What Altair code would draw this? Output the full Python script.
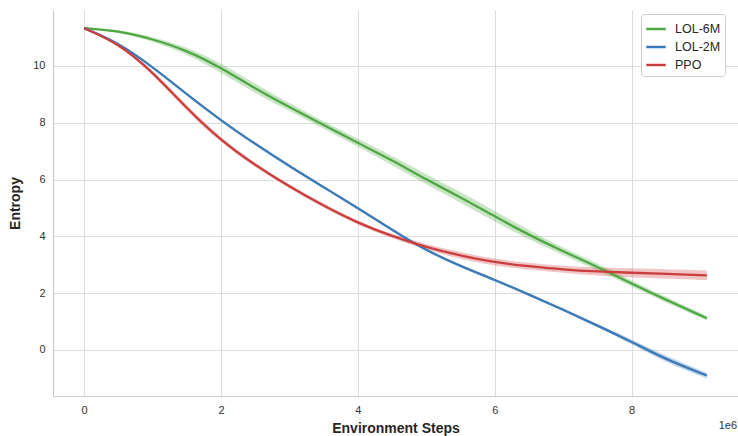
import altair as alt
import pandas as pd

steps = [0, 0.5e6, 1.0e6, 1.5e6, 2.0e6, 2.5e6, 3.0e6, 3.5e6, 4.0e6, 4.5e6,
         5.0e6, 5.5e6, 6.0e6, 6.5e6, 7.0e6, 7.5e6, 8.0e6, 8.5e6, 9.1e6]

lol6m = [11.33, 11.24, 10.95, 10.55, 9.94, 9.2, 8.55, 7.92, 7.29, 6.68,
         6.0, 5.38, 4.7, 4.05, 3.47, 2.93, 2.34, 1.77, 1.12]
lol6m_err = [0.02, 0.05, 0.08, 0.13, 0.17, 0.17, 0.14, 0.13, 0.14, 0.16,
             0.18, 0.19, 0.19, 0.16, 0.13, 0.13, 0.11, 0.1, 0.08]

lol2m = [11.33, 10.82, 9.97, 9.0, 8.08, 7.25, 6.47, 5.73, 5.0, 4.23,
         3.5, 2.95, 2.47, 1.95, 1.42, 0.86, 0.29, -0.33, -0.9]
lol2m_err = [0.02, 0.03, 0.04, 0.05, 0.05, 0.05, 0.05, 0.05, 0.05, 0.05,
             0.05, 0.05, 0.05, 0.05, 0.05, 0.06, 0.08, 0.12, 0.1]

ppo = [11.33, 10.8, 9.8, 8.5, 7.37, 6.5, 5.75, 5.07, 4.47, 4.0,
       3.62, 3.32, 3.08, 2.95, 2.83, 2.76, 2.72, 2.68, 2.63]
ppo_err = [0.02, 0.04, 0.08, 0.1, 0.08, 0.07, 0.07, 0.07, 0.07, 0.07,
           0.1, 0.12, 0.12, 0.12, 0.12, 0.14, 0.16, 0.17, 0.17]

series = ["LOL-6M", "LOL-2M", "PPO"]
colors = ["#4ea843", "#3d7ab8", "#cc3e3e"]
y_ticks = [0, 2, 4, 6, 8, 10]
x_ticks = [0, 2e6, 4e6, 6e6, 8e6]

rows = []
for name, vals, errs in [("LOL-6M", lol6m, lol6m_err), ("LOL-2M", lol2m, lol2m_err), ("PPO", ppo, ppo_err)]:
    for s, v, e in zip(steps, vals, errs):
        rows.append({"step": s, "entropy": v, "lo": v - e, "hi": v + e, "series": name,
                     "order": series.index(name)})
df = pd.DataFrame(rows)

FONT = "Liberation Sans"

x_enc = alt.X("step:Q", scale=alt.Scale(domain=[-455000, 9555000], nice=False, zero=False),
              axis=alt.Axis(values=x_ticks, labelExpr="format(datum.value/1e6, 'd')",
                            title="Environment Steps", titlePadding=6))
y_scale = alt.Scale(domain=[-1.62, 11.97], nice=False, zero=False)
color_enc = alt.Color("series:N", scale=alt.Scale(domain=series, range=colors),
                      legend=alt.Legend(title=None, orient="none", legendX=588, legendY=4,
                                        symbolType="stroke", symbolSize=380,
                                        symbolStrokeWidth=2.5, symbolOpacity=1,
                                        labelFontSize=12.5, labelOffset=8,
                                        labelColor="#262626", labelFont=FONT,
                                        rowPadding=0, padding=4,
                                        strokeColor="#cccccc", fillColor="white",
                                        cornerRadius=3))

base = alt.Chart(df)

band = base.mark_area(opacity=0.3, interpolate="basis").encode(
    x=x_enc,
    y=alt.Y("lo:Q", scale=y_scale),
    y2="hi:Q",
    color=color_enc,
    detail="series:N",
)

line = base.mark_line(strokeWidth=2.3, interpolate="basis").encode(
    x=x_enc,
    y=alt.Y("entropy:Q", scale=y_scale,
            axis=alt.Axis(values=y_ticks, title="Entropy", titlePadding=10)),
    color=color_enc,
    order="order:Q",
)

exp_label = alt.Chart(pd.DataFrame({"t": ["1e6"]})).mark_text(
    align="right", baseline="alphabetic", fontSize=11, font=FONT, color="#333333"
).encode(x=alt.value(684), y=alt.value(419), text="t:N")

chart = alt.layer(band, line, exp_label).properties(
    width=685, height=386,
    autosize=alt.AutoSizeParams(type="none"),
    padding={"left": 53, "top": 10, "right": 0, "bottom": 40},
).configure_view(stroke=None).configure_axis(
    grid=True, gridColor="#dcdcdc", gridWidth=1,
    domain=True, domainColor="#cccccc", domainWidth=1.2,
    ticks=False, labelPadding=8,
    labelFont=FONT, labelFontSize=11, labelColor="#333333",
    titleFont=FONT, titleFontSize=14, titleFontWeight="bold", titleColor="#262626",
)

chart.save("out.html", embed_options={"renderer": "svg", "actions": False})
